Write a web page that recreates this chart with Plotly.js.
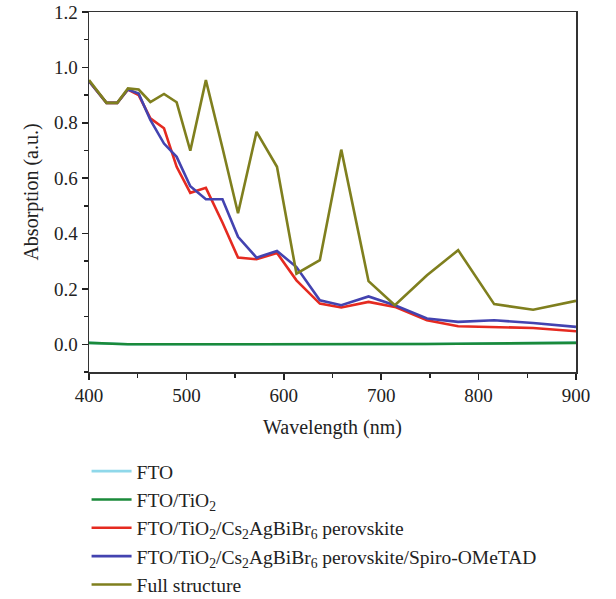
<!DOCTYPE html>
<html>
<head>
<meta charset="utf-8">
<script src="https://cdn.plot.ly/plotly-3.0.1.min.js"></script>
<style>html,body{margin:0;padding:0;background:#fff;}#chart{width:616px;height:599px;}</style>
</head>
<body>
<div id="chart"></div>
<script>
// Wavelength sample points (nm)
var wavelength = [400, 418, 429, 440, 451, 463, 477, 490, 504, 520, 537, 553, 572, 593, 613, 637, 659, 687, 714, 747, 779, 816, 856, 900];

// Absorption (a.u.)
var fto        = [0.005, 0.002, 0.001, 0.000, 0.000, 0.000, 0.000, -0.001, -0.001, -0.001, -0.001, -0.001, -0.001, -0.001, -0.001, -0.001, -0.001, -0.001, 0.000, 0.001, 0.002, 0.003, 0.004, 0.006];
var ftoTiO2    = [0.005, 0.002, 0.001, 0.000, 0.000, 0.000, 0.000, -0.001, -0.001, -0.001, -0.001, -0.001, -0.001, -0.001, -0.001, -0.001, -0.001, -0.001, 0.000, 0.001, 0.002, 0.003, 0.004, 0.005];
var perovskite = [0.950, 0.872, 0.872, 0.920, 0.900, 0.816, 0.780, 0.641, 0.547, 0.565, 0.440, 0.313, 0.307, 0.330, 0.231, 0.147, 0.133, 0.153, 0.135, 0.087, 0.065, 0.063, 0.059, 0.047];
var spiro      = [0.950, 0.872, 0.872, 0.920, 0.906, 0.810, 0.725, 0.677, 0.571, 0.524, 0.524, 0.388, 0.313, 0.337, 0.279, 0.159, 0.141, 0.173, 0.141, 0.093, 0.081, 0.087, 0.077, 0.063];
var full       = [0.954, 0.872, 0.872, 0.924, 0.920, 0.875, 0.904, 0.874, 0.699, 0.954, 0.710, 0.473, 0.767, 0.641, 0.255, 0.304, 0.703, 0.228, 0.141, 0.249, 0.340, 0.145, 0.125, 0.157];

var seriesNames = [
  'FTO',
  'FTO/TiO<sub>2</sub>',
  'FTO/TiO<sub>2</sub>/Cs<sub>2</sub>AgBiBr<sub>6</sub> perovskite',
  'FTO/TiO<sub>2</sub>/Cs<sub>2</sub>AgBiBr<sub>6</sub> perovskite/Spiro-OMeTAD',
  'Full structure'
];
var seriesColors = ['#8fd8ea', '#1a8a3a', '#e52a20', '#4343b0', '#7f7f1e'];
var seriesData = [fto, ftoTiO2, perovskite, spiro, full];

var traces = seriesData.map(function (ys, i) {
  return {
    x: wavelength,
    y: ys,
    type: 'scatter',
    mode: 'lines',
    name: seriesNames[i],
    line: {color: seriesColors[i], width: 2.6}
  };
});

var serif = 'Liberation Serif, Times New Roman, serif';
var layout = {
  width: 616,
  height: 599,
  margin: {l: 89, r: 40, t: 12, b: 227, autoexpand: false},
  paper_bgcolor: '#fff',
  plot_bgcolor: '#fff',
  font: {family: serif, size: 19, color: '#222'},
  showlegend: true,
  legend: {
    x: -0.005, xanchor: 'left',
    y: -0.222, yanchor: 'top',
    font: {family: serif, size: 19.5, color: '#222'},
    itemwidth: 40,
    tracegroupgap: 0,
    bgcolor: 'rgba(0,0,0,0)'
  },
  xaxis: {
    range: [400, 900],
    dtick: 100,
    tick0: 400,
    ticks: 'outside',
    ticklen: 6,
    tickwidth: 1.5,
    tickcolor: '#222',
    minor: {dtick: 50, ticks: 'outside', ticklen: 4, tickwidth: 1.5, tickcolor: '#222'},
    showline: true,
    mirror: true,
    linecolor: '#333',
    linewidth: 1.5,
    showgrid: false,
    zeroline: false,
    tickfont: {family: serif, size: 19, color: '#222'},
    title: {text: 'Wavelength (nm)', font: {family: serif, size: 20, color: '#222'}, standoff: 14}
  },
  yaxis: {
    range: [-0.1, 1.2],
    dtick: 0.2,
    tick0: 0,
    tickformat: '.1f',
    ticks: 'outside',
    ticklen: 6,
    tickwidth: 1.5,
    tickcolor: '#222',
    minor: {dtick: 0.1, tick0: 0, ticks: 'outside', ticklen: 4, tickwidth: 1.5, tickcolor: '#222'},
    showline: true,
    mirror: true,
    linecolor: '#333',
    linewidth: 1.5,
    showgrid: false,
    zeroline: false,
    tickfont: {family: serif, size: 19, color: '#222'},
    title: {text: 'Absorption (a.u.)', font: {family: serif, size: 20, color: '#222'}, standoff: 10}
  }
};

Plotly.newPlot('chart', traces, layout, {displayModeBar: false, staticPlot: true});
</script>
</body>
</html>
